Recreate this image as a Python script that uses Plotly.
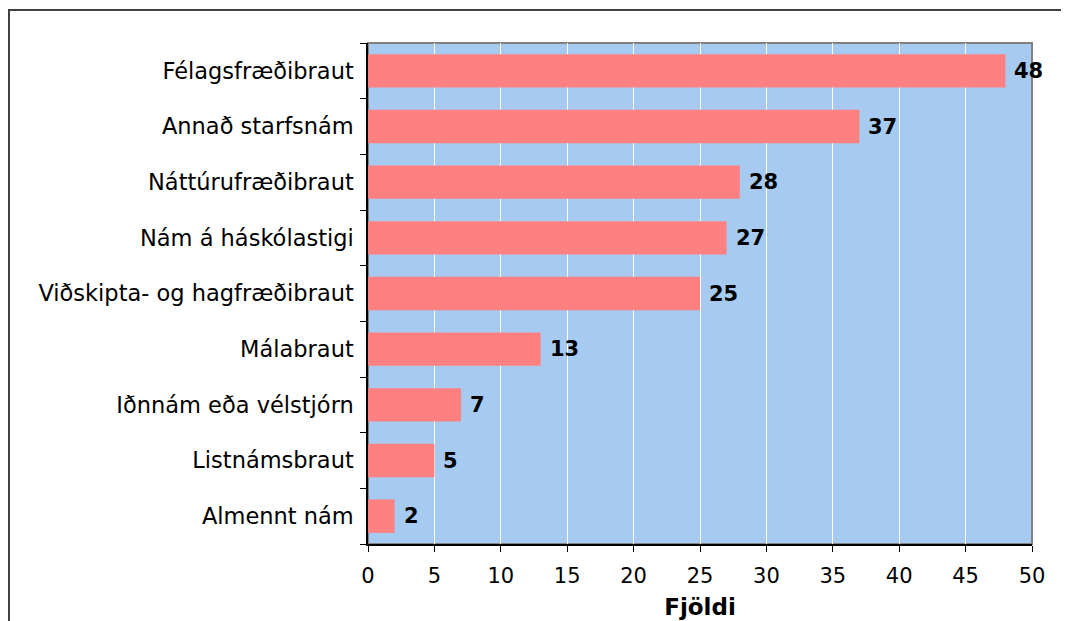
import plotly.graph_objects as go

categories = ["Félagsfræðibraut", "Annað starfsnám", "Náttúrufræðibraut", "Nám á háskólastigi",
              "Viðskipta- og hagfræðibraut", "Málabraut", "Iðnnám eða vélstjórn", "Listnámsbraut", "Almennt nám"]
values = [48, 37, 28, 27, 25, 13, 7, 5, 2]
x_ticks = [0, 5, 10, 15, 20, 25, 30, 35, 40, 45, 50]
x_title = "Fjöldi"

FONT = "DejaVu Sans"

cats_r = categories[::-1]
vals_r = values[::-1]

fig = go.Figure(go.Bar(
    x=vals_r, y=cats_r, orientation="h",
    marker=dict(color="#FF8080", line=dict(width=0)),
    hoverinfo="x+y",
))

for c, v in zip(cats_r, vals_r):
    fig.add_annotation(x=v, y=c, text=str(v), showarrow=False, xanchor="left",
                       xshift=7, font=dict(family=FONT, size=21, color="black", weight="bold"))

W, H = 1069, 621
L, T = 360, 35
pw, ph = 664, 501

fig.update_layout(
    width=W, height=H,
    margin=dict(l=L, r=W - L - pw, t=T, b=H - T - ph),
    paper_bgcolor="white", plot_bgcolor="#A6CAF0",
    bargap=0.4, showlegend=False,
    font=dict(family=FONT, size=21, color="black"),
    shapes=[
        dict(type="rect", xref="paper", yref="paper", x0=0, x1=1, y0=0, y1=1,
             line=dict(color="#808080", width=2), layer="below"),
        dict(type="rect", xref="paper", yref="paper",
             x0=(1 - L) / pw, x1=1.3, y0=-0.3, y1=1 + (T - 2) / ph,
             line=dict(color="#404040", width=2)),
    ],
)
fig.update_xaxes(
    range=[0, 50], tickvals=x_ticks, ticks="outside", ticklen=6, tickcolor="black",
    showline=True, linecolor="black", linewidth=1.5,
    showgrid=True, gridcolor="white", gridwidth=1, zeroline=False,
    tickfont=dict(family=FONT, size=21), ticklabelstandoff=6,
    title=dict(text=x_title, font=dict(family=FONT, size=23, weight="bold"), standoff=12),
)
fig.update_yaxes(
    ticks="outside", ticklen=6, tickcolor="black", tickson="boundaries",
    showline=True, linecolor="black", linewidth=1.5, showgrid=False,
    tickfont=dict(family=FONT, size=22.5), ticklabelstandoff=8,
)

fig.write_html("out.html")
